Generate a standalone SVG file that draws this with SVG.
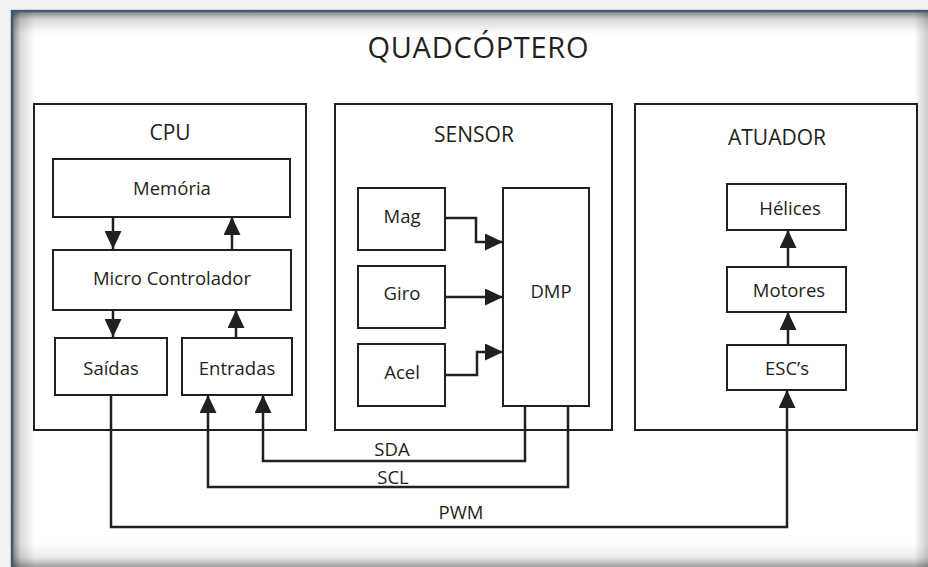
<svg xmlns="http://www.w3.org/2000/svg" width="928" height="567" viewBox="0 0 928 567">
  <defs>
    <linearGradient id="shTop" x1="0" y1="0" x2="0" y2="1">
      <stop offset="0" stop-color="#000" stop-opacity="0.45"/>
      <stop offset="0.35" stop-color="#000" stop-opacity="0.15"/>
      <stop offset="1" stop-color="#000" stop-opacity="0"/>
    </linearGradient>
    <linearGradient id="shLeft" x1="0" y1="0" x2="1" y2="0">
      <stop offset="0" stop-color="#000" stop-opacity="0.45"/>
      <stop offset="0.35" stop-color="#000" stop-opacity="0.15"/>
      <stop offset="1" stop-color="#000" stop-opacity="0"/>
    </linearGradient>
    <linearGradient id="shBottom" x1="0" y1="0" x2="0" y2="1">
      <stop offset="0" stop-color="#000" stop-opacity="0"/>
      <stop offset="0.6" stop-color="#000" stop-opacity="0.08"/>
      <stop offset="1" stop-color="#000" stop-opacity="0.38"/>
    </linearGradient>
    <linearGradient id="shRight" x1="0" y1="0" x2="1" y2="0">
      <stop offset="0" stop-color="#000" stop-opacity="0"/>
      <stop offset="1" stop-color="#000" stop-opacity="0.2"/>
    </linearGradient>
    <marker id="arrow" viewBox="0 0 18 17" refX="18" refY="8.5" markerWidth="18" markerHeight="17" markerUnits="userSpaceOnUse" orient="auto">
      <path d="M0,0 L18,8.5 L0,17 Z" fill="#231f20"/>
    </marker>
  </defs>
  <style>
    text { font-family: "Open Sans", "Liberation Sans", sans-serif; fill: #231f20; text-anchor: middle; }
    .title { font-size: 29px; }
    .head { font-size: 21px; }
    .lbl { font-size: 18.5px; }
    .box { fill: #fff; stroke: #231f20; stroke-width: 2; }
    .wire { fill: none; stroke: #231f20; stroke-width: 2.5; }
    .arr { marker-end: url(#arrow); }
  </style>

  <!-- page frame with inner shadow -->
  <rect x="0" y="0" width="928" height="567" fill="#fff"/>
  <rect x="0" y="0" width="928" height="9" fill="#f2f2f2"/>
  <rect x="0" y="0" width="10" height="567" fill="#f2f2f2"/>
  <rect x="13" y="12" width="915" height="22" fill="url(#shTop)"/>
  <rect x="13" y="12" width="22" height="555" fill="url(#shLeft)"/>
  <rect x="13" y="543" width="915" height="24" fill="url(#shBottom)"/>
  <rect x="914" y="12" width="14" height="555" fill="url(#shRight)"/>
  <path d="M12,567 V11 H928" fill="none" stroke="#3d5a76" stroke-width="2.6"/>

  <text class="title" x="478" y="58" textLength="221" lengthAdjust="spacing">QUADCÓPTERO</text>

  <!-- CPU block -->
  <g id="cpu">
    <rect class="box" x="34" y="104" width="272" height="326"/>
    <text class="head" x="170" y="140">CPU</text>
  </g>
  <g id="memoria">
    <rect class="box" x="53" y="159" width="237" height="58"/>
    <text class="lbl" x="172" y="195">Memória</text>
  </g>
  <g id="micro">
    <rect class="box" x="53" y="250" width="238" height="60"/>
    <text class="lbl" x="172" y="285">Micro Controlador</text>
  </g>
  <g id="saidas">
    <rect class="box" x="55" y="338" width="112" height="57"/>
    <text class="lbl" x="111" y="375">Saídas</text>
  </g>
  <g id="entradas">
    <rect class="box" x="182" y="338" width="110" height="57"/>
    <text class="lbl" x="237" y="375">Entradas</text>
  </g>

  <!-- SENSOR block -->
  <g id="sensor">
    <rect class="box" x="335" y="104" width="277" height="326"/>
    <text class="head" x="474" y="142">SENSOR</text>
  </g>
  <g id="mag">
    <rect class="box" x="358" y="188" width="87" height="62"/>
    <text class="lbl" x="402" y="223">Mag</text>
  </g>
  <g id="giro">
    <rect class="box" x="358" y="266" width="87" height="62"/>
    <text class="lbl" x="402" y="300">Giro</text>
  </g>
  <g id="acel">
    <rect class="box" x="358" y="344" width="87" height="62"/>
    <text class="lbl" x="402" y="379">Acel</text>
  </g>
  <g id="dmp">
    <rect class="box" x="503" y="188" width="86" height="218"/>
    <text class="lbl" x="551" y="298">DMP</text>
  </g>

  <!-- ATUADOR block -->
  <g id="atuador">
    <rect class="box" x="635" y="104" width="282" height="326"/>
    <text class="head" x="777" y="145">ATUADOR</text>
  </g>
  <g id="helices">
    <rect class="box" x="727" y="184" width="119" height="46"/>
    <text class="lbl" x="790" y="215">Hélices</text>
  </g>
  <g id="motores">
    <rect class="box" x="727" y="267" width="119" height="45"/>
    <text class="lbl" x="789" y="297">Motores</text>
  </g>
  <g id="escs">
    <rect class="box" x="727" y="345" width="119" height="45"/>
    <text class="lbl" x="787" y="375">ESC’s</text>
  </g>

  <!-- connectors -->
  <g id="connectors">
    <path class="wire arr" d="M113,217 V249"/>
    <path class="wire arr" d="M232,249 V217"/>
    <path class="wire arr" d="M113,310 V337"/>
    <path class="wire arr" d="M236,338 V310"/>

    <path class="wire arr" d="M445,218 H476 V242 H503"/>
    <path class="wire arr" d="M445,297 H503"/>
    <path class="wire arr" d="M445,375 H477 V352 H503"/>

    <path class="wire arr" d="M788,267 V230"/>
    <path class="wire arr" d="M788,345 V312"/>

    <path class="wire arr" d="M525,406 V461 H263 V395"/>
    <path class="wire arr" d="M568,406 V487 H208 V395"/>
    <path class="wire arr" d="M111,395 V527 H787 V390"/>

    <text class="lbl" x="392" y="456">SDA</text>
    <text class="lbl" x="393" y="484">SCL</text>
    <text class="lbl" x="461" y="519">PWM</text>
  </g>
</svg>
